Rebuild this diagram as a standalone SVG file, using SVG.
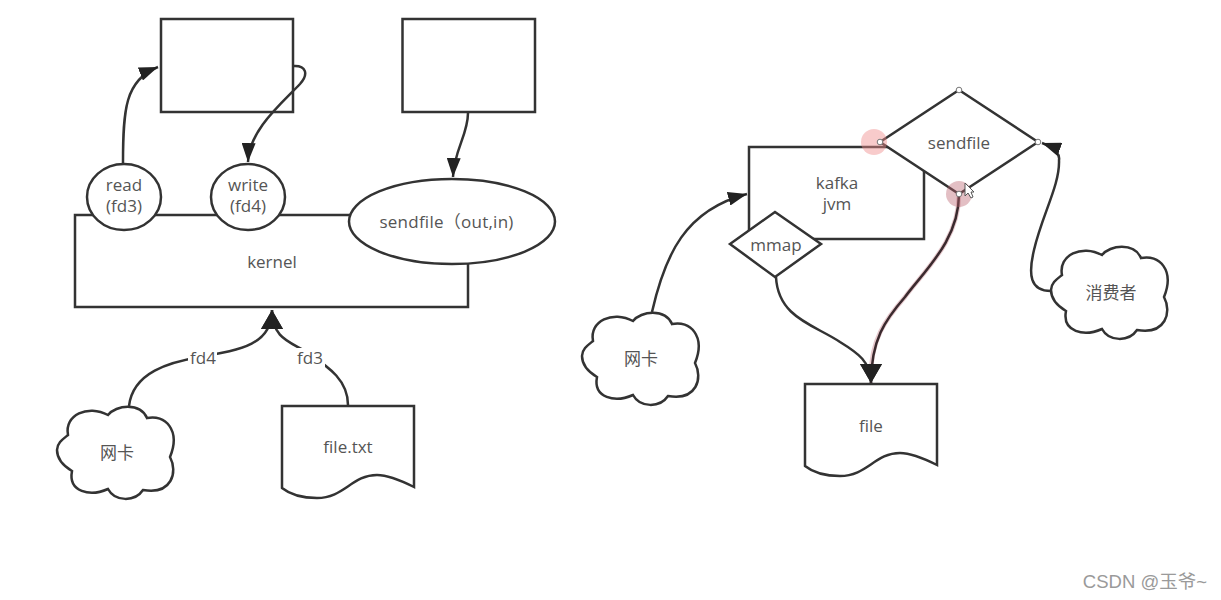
<svg xmlns="http://www.w3.org/2000/svg" width="1221" height="600" viewBox="0 0 1221 600">
<style>
.s{fill:#fff;stroke:#333;stroke-width:2.5}
.c{fill:none;stroke:#333;stroke-width:2.5}
text{font-family:"Open Sans","Noto Sans CJK SC",sans-serif;font-size:17px;fill:#555;text-anchor:middle}
.w{font-family:"Liberation Sans","Noto Sans CJK SC",sans-serif;font-size:18.500px;fill:#9a9a9a;text-anchor:end}
.h{fill:#fff;stroke:#777;stroke-width:1}
</style>
<defs>
<marker id="a" markerUnits="userSpaceOnUse" markerWidth="20" markerHeight="14" refX="19" refY="7" orient="auto"><path d="M0,0L19,7L0,14Z" fill="#222"/></marker>
<marker id="b" markerUnits="userSpaceOnUse" markerWidth="20" markerHeight="22" refX="19" refY="11" orient="auto"><path d="M0,0L19,11L0,22Z" fill="#222"/></marker>
<path id="cloud" d="M28,135C24,115 48,104 68,115C76,105 100,102 107,118C125,114 141,130 130,157C138,172 132,195 103,190C95,202 75,202 68,189C50,197 28,192 32,171C22,165 17,157 17,150C17,143 23,139 28,135Z"/>
<path id="doc" d="M0,0H132V81C118,74 106,69 95,69C70,69 62,92 35,92C22,92 10,90 0,82Z"/>
</defs>
<rect width="1221" height="600" fill="#fff"/>
<g id="buffer1"><rect class="s" x="161" y="19" width="132" height="93"/></g>
<g id="buffer2"><rect class="s" x="402.500" y="19" width="132.500" height="93"/></g>
<g id="kernel"><rect class="s" x="75" y="215" width="393" height="92"/><text x="272" y="268">kernel</text></g>
<g id="read"><ellipse class="s" cx="124" cy="197" rx="37" ry="33"/><text x="124" y="191">read</text><text x="124" y="212">(fd3)</text></g>
<g id="write"><ellipse class="s" cx="248" cy="197" rx="37" ry="33"/><text x="248" y="191">write</text><text x="248" y="212">(fd4)</text></g>
<g id="sendfile1"><ellipse class="s" cx="452" cy="221.500" rx="103" ry="42.500"/><text x="446.500" y="228" letter-spacing=".25">sendfile（out,in)</text></g>
<g id="nic1"><use href="#cloud" class="s" x="40" y="300"/><text x="117" y="459">网卡</text></g>
<g id="filetxt"><use href="#doc" class="s" x="282" y="406"/><text x="348" y="453">file.txt</text></g>
<g id="kafka"><rect class="s" x="749" y="147" width="175" height="92"/><text x="837" y="189">kafka</text><text x="837" y="210">jvm</text></g>
<g id="mmap"><path class="s" d="M775,212L821,244L775,277L730,244Z"/><text x="776" y="251">mmap</text></g>
<g id="sendfile2"><path class="s" d="M959,90L1038,142L959,194L880,142Z"/><text x="959" y="149">sendfile</text></g>
<g id="nic2"><use href="#cloud" class="s" x="565" y="206"/><text x="641" y="365">网卡</text></g>
<g id="file"><use href="#doc" class="s" x="805" y="384"/><text x="871" y="432">file</text></g>
<g id="consumer"><use href="#cloud" class="s" x="1034" y="140"/><text x="1111" y="299">消费者</text></g>
<g id="connectors">
<path class="c" marker-end="url(#a)" d="M123,163C123,110 125,80 158,67"/>
<path class="c" marker-end="url(#a)" d="M293,66C306,65 309,74 300,84C282,103 249,130 248,162"/>
<path class="c" marker-end="url(#a)" d="M468,113C468,135 454,150 453,177"/>
<path class="c" marker-end="url(#b)" d="M129,406C133,372 170,362 200,357C240,350 272,345 272,310"/>
<path class="c" marker-end="url(#b)" d="M348,405C348,378 325,365 305,351C290,342 272,338 272,310"/>
<rect x="188" y="348" width="29" height="20" fill="#fff"/>
<rect x="296" y="348" width="29" height="20" fill="#fff"/>
<text x="203" y="364">fd4</text>
<text x="310" y="364">fd3</text>
<path class="c" marker-end="url(#a)" d="M652,312C665,255 685,210 747,194"/>
<path class="c" marker-end="url(#b)" d="M776,277C778,318 815,325 840,342C858,353 871,362 871,383"/>
<path fill="none" stroke="#e6c8cc" stroke-width="4.500" d="M959,194C959,240 925,270 905,297C885,320 871,340 871,375"/>
<path fill="none" stroke="#3a2a2e" stroke-width="2.500" marker-end="url(#b)" d="M959,194C959,240 925,270 905,297C885,320 871,340 871,383"/>
<path class="c" marker-end="url(#a)" d="M1051,291C1030,291 1028,275 1034,250C1042,215 1060,185 1059,160C1060,155 1056,148 1042,143"/>
</g>
<circle cx="874" cy="142" r="13" fill="#f08c8c" fill-opacity=".45"/>
<circle cx="959" cy="194" r="13" fill="#b8606c" fill-opacity=".4"/>
<circle class="h" cx="959" cy="90" r="2.800"/>
<circle class="h" cx="880" cy="142" r="2.800"/>
<circle class="h" cx="1038" cy="142" r="2.800"/>
<circle class="h" cx="959" cy="194" r="2.800"/>
<path d="M965,183L965,196L968,193L971,198L973,197L971,192L974,192Z" fill="#fff" stroke="#555" stroke-width="1"/>
<text class="w" x="1207" y="588">CSDN @玉爷~</text>
</svg>
